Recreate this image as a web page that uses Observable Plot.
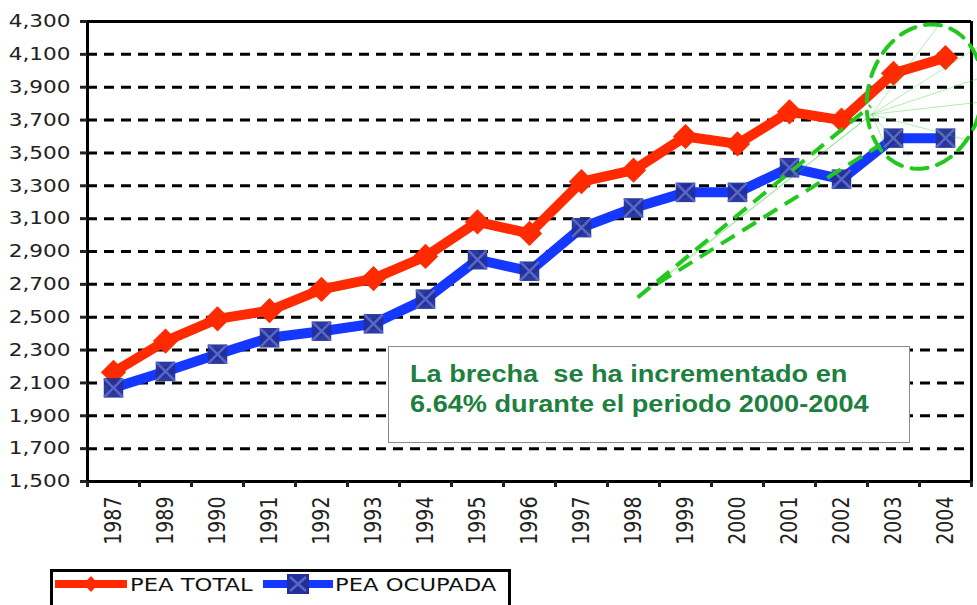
<!DOCTYPE html>
<html><head><meta charset="utf-8">
<script src="https://cdn.jsdelivr.net/npm/d3@7"></script>
<script src="https://cdn.jsdelivr.net/npm/@observablehq/plot@0.6"></script>
<style>
body{margin:0;background:#fff;}
#wrap{position:relative;width:977px;height:605px;overflow:hidden;background:#fff;font-family:"DejaVu Sans",Verdana,sans-serif;}
#note{position:absolute;left:388px;top:346px;width:522px;height:97px;background:#fff;border:1px solid #8a8a8a;
 color:#1e8040;font-family:"Liberation Sans",Arial,sans-serif;font-weight:bold;font-size:23px;line-height:30px;padding:12px 0 0 21px;box-sizing:border-box;}
#note span{display:inline-block;transform:scaleX(1.18);transform-origin:0 50%;white-space:pre;}
#legend{position:absolute;left:50px;top:569px;}
</style></head><body>
<div id="wrap"><div id="chart"></div><div id="note"></div><div id="legend"></div></div>
<script>
const years = ["1987","1989","1990","1991","1992","1993","1994","1995","1996","1997","1998","1999","2000","2001","2002","2003","2004"];
const peaTotal   = [2165,2355,2490,2540,2670,2735,2870,3080,3010,3325,3395,3600,3555,3750,3700,3985,4080];
const peaOcupada = [2070,2170,2275,2375,2415,2460,2610,2850,2780,3045,3165,3260,3260,3410,3340,3590,3590];
const seriesNames = ["PEA TOTAL","PEA OCUPADA"];
const seriesColors = ["#ff2a00","#1438ff"];
const yTicks = [1500,1700,1900,2100,2300,2500,2700,2900,3100,3300,3500,3700,3900,4100,4300];
const noteLines = ["La brecha  se ha incrementado en","6.64% durante el periodo 2000-2004"];
// hand-drawn callout, in (year-index, value) units
const calloutCenter = [15.6, 3843];
const calloutTails = [[10.08, 2620, 14.56, 3787], [10.46, 2705, 14.75, 3550]];
const calloutHub = [14.58, 3735];
const calloutSpokes = [[15.9, 4290], [16.7, 4160], [16.7, 3960], [16.7, 3810], [16.4, 3580], [15.3, 3480], [14.9, 3500]];

const green = "#22c81e";
// chart geometry (for the callout ellipse shape only)
const W = 977, H = 560, mL = 87, mR = 6, mT = 21, mB = 79;
const pxPerIndex = (W - mL - mR) / years.length;
const pxPerValue = (H - mT - mB) / (yTicks[yTicks.length - 1] - yTicks[0]);
const ellA = 73, ellB = 57, ellTilt = 14 * Math.PI / 180; // semi-axes (px) and tilt
const ellipse = d3.range(0, 361, 4).map(a => {
  const t = a * Math.PI / 180, u = ellB * Math.cos(t), v = ellA * Math.sin(t);
  const dx = u * Math.cos(ellTilt) + v * Math.sin(ellTilt);
  const dy = -u * Math.sin(ellTilt) + v * Math.cos(ellTilt);
  return {x: calloutCenter[0] + dx / pxPerIndex, y: calloutCenter[1] + dy / pxPerValue};
});

const total = years.map((y,i)=>({i, year:y, v:peaTotal[i]}));
const ocup = years.map((y,i)=>({i, year:y, v:peaOcupada[i]}));
const tails = calloutTails.map(t => ({x1: t[0], y1: t[1], x2: t[2], y2: t[3]}));
const spokes = calloutSpokes.map(s => ({x1: calloutHub[0], y1: calloutHub[1], x2: s[0], y2: s[1]}))
  .concat(calloutTails.map(t => ({x1: t[0], y1: t[1], x2: calloutHub[0], y2: calloutHub[1]})));
const bounds = d3.range(years.length + 1).map(k => k - 0.5);

const chart = Plot.plot({
  width: W, height: H,
  marginLeft: mL, marginRight: mR, marginTop: mT, marginBottom: mB,
  style: {fontFamily: "DejaVu Sans, Verdana, sans-serif", color: "#222", background: "white", overflow: "visible"},
  x: {type: "linear", domain: [-0.5, years.length - 0.5], axis: null},
  y: {domain: [yTicks[0], yTicks[yTicks.length - 1]], axis: null},
  marks: [
    Plot.ruleY(yTicks.slice(1, -1), {stroke: "#000", strokeWidth: 3, strokeDasharray: "10,7"}),
    Plot.ruleY([yTicks[yTicks.length - 1]], {stroke: "#000", strokeWidth: 3}),
    Plot.ruleY([yTicks[0]], {stroke: "#000", strokeWidth: 3}),
    Plot.ruleX([-0.5], {stroke: "#000", strokeWidth: 3}),
    Plot.ruleX([years.length - 0.5], {stroke: "#000", strokeWidth: 3}),
    Plot.axisY({ticks: yTicks, tickFormat: d3.format(","), tickSize: 7, tickPadding: 10, strokeWidth: 3, fontSize: 18}),
    Plot.axisX({ticks: bounds, tickFormat: () => "", tickSize: 6, strokeWidth: 3}),
    Plot.text(years, {x: (d, i) => i, text: d => d, frameAnchor: "bottom", rotate: -90, textAnchor: "end", lineAnchor: "middle", dy: 15, fontSize: 19, fill: "#222"}),
    Plot.line(total, {x: "i", y: "v", stroke: seriesColors[0], strokeWidth: 10, strokeLinejoin: "round"}),
    Plot.line(ocup, {x: "i", y: "v", stroke: seriesColors[1], strokeWidth: 10, strokeLinejoin: "round"}),
    Plot.dot(total, {x: "i", y: "v", symbol: "square", r: 9.5, rotate: 45, fill: seriesColors[0], stroke: seriesColors[0], strokeWidth: 1}),
    Plot.dot(ocup, {x: "i", y: "v", symbol: "square", r: 11, fill: "#222f98", fillOpacity: 0.95}),
    Plot.dot(ocup, {x: "i", y: "v", symbol: "times", r: 8.5, stroke: "#5a66c4", strokeWidth: 2.5}),
    Plot.link(spokes, {x1: "x1", y1: "y1", x2: "x2", y2: "y2", stroke: green, strokeWidth: 1, strokeOpacity: 0.35}),
    Plot.line(ellipse, {x: "x", y: "y", stroke: green, strokeWidth: 4, strokeDasharray: "16,10"}),
    Plot.link(tails, {x1: "x1", y1: "y1", x2: "x2", y2: "y2", stroke: green, strokeWidth: 4, strokeDasharray: "16,9"})
  ]
});
document.getElementById("chart").appendChild(chart);

// widen glyphs horizontally like the source (which is a horizontally stretched Verdana rendering)
function stretch(sel, s) {
  chart.querySelectorAll(sel).forEach(t => {
    let tr = t.getAttribute("transform");
    if (!tr) {
      const x = t.getAttribute("x") || 0, y = t.getAttribute("y") || 0;
      t.removeAttribute("x"); t.removeAttribute("y");
      tr = `translate(${x},${y})`;
    }
    t.setAttribute("transform", tr + " " + s);
  });
}
stretch('g[aria-label="y-axis tick label"] text', "scale(1.2,1)");
stretch('g[aria-label="text"] text', "scale(1,1.22)");

const note = document.getElementById("note");
noteLines.forEach((s, k) => {
  if (k) note.appendChild(document.createElement("br"));
  const sp = document.createElement("span"); sp.textContent = s; note.appendChild(sp);
});

// legend
const lg = d3.select("#legend").append("svg").attr("width", 470).attr("height", 40).style("overflow", "visible");
lg.append("rect").attr("x", 1.5).attr("y", 1.5).attr("width", 458).attr("height", 60).attr("fill", "#fff").attr("stroke", "#000").attr("stroke-width", 3);
const items = [{x0: 5, x1: 77, xt: 80}, {x0: 213, x1: 283, xt: 285}];
seriesNames.forEach((name, k) => {
  const it = items[k];
  const cy = 15;
  lg.append("line").attr("x1", it.x0).attr("x2", it.x1).attr("y1", cy).attr("y2", cy).attr("stroke", seriesColors[k]).attr("stroke-width", 8);
  const cx = (it.x0 + it.x1) / 2;
  if (k === 0) {
    lg.append("path").attr("d", `M${cx},${cy-8}L${cx+7.5},${cy}L${cx},${cy+8}L${cx-7.5},${cy}Z`).attr("fill", seriesColors[0]);
  } else {
    lg.append("rect").attr("x", cx - 11).attr("y", cy - 10).attr("width", 22).attr("height", 20).attr("fill", "#222f98");
    lg.append("path").attr("d", `M${cx-8},${cy-7}L${cx+8},${cy+7}M${cx+8},${cy-7}L${cx-8},${cy+7}`).attr("stroke", "#5a66c4").attr("stroke-width", 2.5);
  }
  lg.append("text").attr("transform", `translate(${it.xt},${cy + 7}) scale(1.26,1)`)
    .attr("font-family", "DejaVu Sans, Verdana, sans-serif").attr("font-size", 18).attr("fill", "#111").text(name);
});
</script>
</body></html>
